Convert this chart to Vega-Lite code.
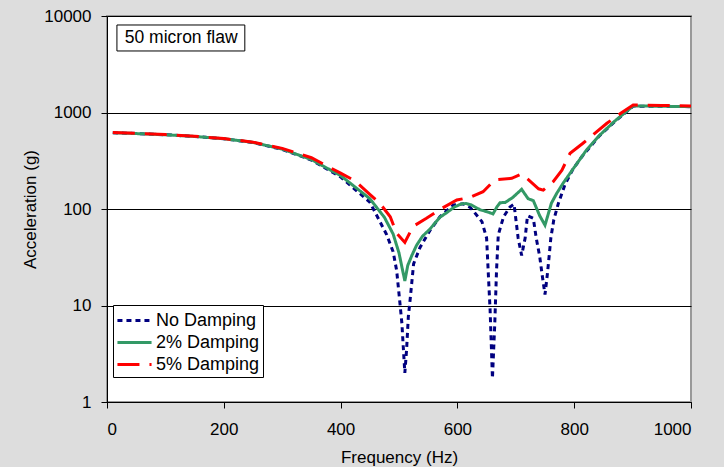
{
  "$schema": "https://vega.github.io/schema/vega-lite/v6.json",
  "width": 584,
  "height": 386,
  "autosize": {"type": "none"},
  "padding": {"left": 107, "top": 16, "right": 33, "bottom": 65},
  "background": "#dddddd",
  "config": {
    "font": "Liberation Sans",
    "view": {"fill": "white", "stroke": "#999999", "strokeWidth": 2},
    "axis": {
      "labelFont": "Liberation Sans", "titleFont": "Liberation Sans",
      "labelFontSize": 17, "titleFontSize": 17, "titleFontWeight": "normal", "labelFontWeight": "normal",
      "labelColor": "black", "titleColor": "black",
      "domainColor": "black", "tickColor": "black", "tickSize": 6,
      "gridColor": "black", "gridOpacity": 1, "gridWidth": 1
    }
  },
  "layer": [
    {
      "data": {"values": [
        {"f": 10, "a": 617, "s": "No Damping"},
        {"f": 50, "a": 605, "s": "No Damping"},
        {"f": 100, "a": 588, "s": "No Damping"},
        {"f": 150, "a": 565, "s": "No Damping"},
        {"f": 200, "a": 535, "s": "No Damping"},
        {"f": 250, "a": 488, "s": "No Damping"},
        {"f": 300, "a": 415, "s": "No Damping"},
        {"f": 350, "a": 322, "s": "No Damping"},
        {"f": 400, "a": 215, "s": "No Damping"},
        {"f": 450, "a": 118, "s": "No Damping"},
        {"f": 479, "a": 54, "s": "No Damping"},
        {"f": 490, "a": 36, "s": "No Damping"},
        {"f": 496, "a": 23, "s": "No Damping"},
        {"f": 502, "a": 10, "s": "No Damping"},
        {"f": 505, "a": 6.5, "s": "No Damping"},
        {"f": 507, "a": 4, "s": "No Damping"},
        {"f": 510, "a": 2, "s": "No Damping"},
        {"f": 513, "a": 3.5, "s": "No Damping"},
        {"f": 516, "a": 7.7, "s": "No Damping"},
        {"f": 519, "a": 11.4, "s": "No Damping"},
        {"f": 525, "a": 27, "s": "No Damping"},
        {"f": 536, "a": 40, "s": "No Damping"},
        {"f": 553, "a": 60, "s": "No Damping"},
        {"f": 570, "a": 83, "s": "No Damping"},
        {"f": 593, "a": 110, "s": "No Damping"},
        {"f": 610, "a": 113, "s": "No Damping"},
        {"f": 622, "a": 104, "s": "No Damping"},
        {"f": 642, "a": 74, "s": "No Damping"},
        {"f": 650, "a": 50, "s": "No Damping"},
        {"f": 653, "a": 21, "s": "No Damping"},
        {"f": 656, "a": 9, "s": "No Damping"},
        {"f": 660, "a": 1.76, "s": "No Damping"},
        {"f": 664, "a": 6.5, "s": "No Damping"},
        {"f": 667, "a": 23, "s": "No Damping"},
        {"f": 670, "a": 54, "s": "No Damping"},
        {"f": 679, "a": 83, "s": "No Damping"},
        {"f": 690, "a": 105, "s": "No Damping"},
        {"f": 697, "a": 112, "s": "No Damping"},
        {"f": 704, "a": 50, "s": "No Damping"},
        {"f": 710, "a": 33, "s": "No Damping"},
        {"f": 716, "a": 50, "s": "No Damping"},
        {"f": 720, "a": 85, "s": "No Damping"},
        {"f": 730, "a": 80, "s": "No Damping"},
        {"f": 735, "a": 50, "s": "No Damping"},
        {"f": 741, "a": 32, "s": "No Damping"},
        {"f": 745, "a": 21, "s": "No Damping"},
        {"f": 750, "a": 13, "s": "No Damping"},
        {"f": 754, "a": 21, "s": "No Damping"},
        {"f": 757, "a": 32, "s": "No Damping"},
        {"f": 760, "a": 50, "s": "No Damping"},
        {"f": 765, "a": 77, "s": "No Damping"},
        {"f": 773, "a": 115, "s": "No Damping"},
        {"f": 784, "a": 178, "s": "No Damping"},
        {"f": 797, "a": 253, "s": "No Damping"},
        {"f": 813, "a": 348, "s": "No Damping"},
        {"f": 844, "a": 580, "s": "No Damping"},
        {"f": 870, "a": 810, "s": "No Damping"},
        {"f": 901, "a": 1165, "s": "No Damping"},
        {"f": 950, "a": 1160, "s": "No Damping"},
        {"f": 1000, "a": 1150, "s": "No Damping"},

        {"f": 10, "a": 617, "s": "2% Damping"},
        {"f": 50, "a": 605, "s": "2% Damping"},
        {"f": 100, "a": 588, "s": "2% Damping"},
        {"f": 150, "a": 565, "s": "2% Damping"},
        {"f": 200, "a": 535, "s": "2% Damping"},
        {"f": 250, "a": 490, "s": "2% Damping"},
        {"f": 300, "a": 418, "s": "2% Damping"},
        {"f": 350, "a": 325, "s": "2% Damping"},
        {"f": 400, "a": 222, "s": "2% Damping"},
        {"f": 450, "a": 128, "s": "2% Damping"},
        {"f": 475, "a": 82, "s": "2% Damping"},
        {"f": 490, "a": 55, "s": "2% Damping"},
        {"f": 500, "a": 35, "s": "2% Damping"},
        {"f": 505, "a": 25, "s": "2% Damping"},
        {"f": 510, "a": 18, "s": "2% Damping"},
        {"f": 515, "a": 26, "s": "2% Damping"},
        {"f": 522, "a": 33, "s": "2% Damping"},
        {"f": 530, "a": 42, "s": "2% Damping"},
        {"f": 540, "a": 52, "s": "2% Damping"},
        {"f": 553, "a": 62, "s": "2% Damping"},
        {"f": 570, "a": 82, "s": "2% Damping"},
        {"f": 582, "a": 92, "s": "2% Damping"},
        {"f": 595, "a": 105, "s": "2% Damping"},
        {"f": 607, "a": 113, "s": "2% Damping"},
        {"f": 615, "a": 114, "s": "2% Damping"},
        {"f": 624, "a": 110, "s": "2% Damping"},
        {"f": 639, "a": 98, "s": "2% Damping"},
        {"f": 650, "a": 94, "s": "2% Damping"},
        {"f": 661, "a": 89, "s": "2% Damping"},
        {"f": 668, "a": 106, "s": "2% Damping"},
        {"f": 673, "a": 116, "s": "2% Damping"},
        {"f": 682, "a": 117, "s": "2% Damping"},
        {"f": 695, "a": 132, "s": "2% Damping"},
        {"f": 710, "a": 160, "s": "2% Damping"},
        {"f": 721, "a": 128, "s": "2% Damping"},
        {"f": 730, "a": 122, "s": "2% Damping"},
        {"f": 741, "a": 85, "s": "2% Damping"},
        {"f": 750, "a": 68, "s": "2% Damping"},
        {"f": 761, "a": 115, "s": "2% Damping"},
        {"f": 770, "a": 145, "s": "2% Damping"},
        {"f": 781, "a": 185, "s": "2% Damping"},
        {"f": 800, "a": 270, "s": "2% Damping"},
        {"f": 821, "a": 408, "s": "2% Damping"},
        {"f": 844, "a": 585, "s": "2% Damping"},
        {"f": 870, "a": 820, "s": "2% Damping"},
        {"f": 901, "a": 1170, "s": "2% Damping"},
        {"f": 950, "a": 1160, "s": "2% Damping"},
        {"f": 1000, "a": 1150, "s": "2% Damping"},

        {"f": 10, "a": 620, "s": "5% Damping"},
        {"f": 50, "a": 607, "s": "5% Damping"},
        {"f": 100, "a": 590, "s": "5% Damping"},
        {"f": 150, "a": 567, "s": "5% Damping"},
        {"f": 200, "a": 537, "s": "5% Damping"},
        {"f": 250, "a": 493, "s": "5% Damping"},
        {"f": 300, "a": 425, "s": "5% Damping"},
        {"f": 350, "a": 340, "s": "5% Damping"},
        {"f": 400, "a": 235, "s": "5% Damping"},
        {"f": 425, "a": 195, "s": "5% Damping"},
        {"f": 450, "a": 142, "s": "5% Damping"},
        {"f": 467, "a": 115, "s": "5% Damping"},
        {"f": 485, "a": 83, "s": "5% Damping"},
        {"f": 496, "a": 56, "s": "5% Damping"},
        {"f": 510, "a": 45, "s": "5% Damping"},
        {"f": 524, "a": 66, "s": "5% Damping"},
        {"f": 547, "a": 80, "s": "5% Damping"},
        {"f": 570, "a": 99, "s": "5% Damping"},
        {"f": 599, "a": 124, "s": "5% Damping"},
        {"f": 622, "a": 132, "s": "5% Damping"},
        {"f": 644, "a": 151, "s": "5% Damping"},
        {"f": 664, "a": 200, "s": "5% Damping"},
        {"f": 693, "a": 208, "s": "5% Damping"},
        {"f": 710, "a": 231, "s": "5% Damping"},
        {"f": 721, "a": 203, "s": "5% Damping"},
        {"f": 739, "a": 162, "s": "5% Damping"},
        {"f": 747, "a": 157, "s": "5% Damping"},
        {"f": 764, "a": 192, "s": "5% Damping"},
        {"f": 779, "a": 253, "s": "5% Damping"},
        {"f": 793, "a": 378, "s": "5% Damping"},
        {"f": 815, "a": 480, "s": "5% Damping"},
        {"f": 856, "a": 773, "s": "5% Damping"},
        {"f": 881, "a": 995, "s": "5% Damping"},
        {"f": 901, "a": 1197, "s": "5% Damping"},
        {"f": 950, "a": 1185, "s": "5% Damping"},
        {"f": 1000, "a": 1165, "s": "5% Damping"}
      ]},
      "mark": {"type": "line", "strokeWidth": 3, "clip": true},
      "encoding": {
        "x": {"field": "f", "type": "quantitative",
          "scale": {"domain": [0, 1000], "nice": false, "zero": false},
          "axis": {"title": "Frequency (Hz)", "values": [0, 200, 400, 600, 800, 1000], "format": "d", "grid": false, "labelPadding": 13, "titlePadding": 12}},
        "y": {"field": "a", "type": "quantitative",
          "scale": {"type": "log", "domain": [1, 10000], "nice": false},
          "axis": {"title": "Acceleration (g)", "values": [1, 10, 100, 1000, 10000], "format": ".0f", "grid": true, "labelPadding": 10, "titlePadding": 4}},
        "color": {"field": "s", "type": "nominal",
          "scale": {"domain": ["No Damping", "2% Damping", "5% Damping"], "range": ["#000080", "#339966", "#ff0000"]},
          "legend": {"title": null, "orient": "none", "legendX": 6, "legendY": 289,
            "strokeColor": "black", "fillColor": "white", "padding": 3,
            "labelFontSize": 18, "labelFont": "Liberation Sans", "labelColor": "black",
            "symbolType": "M-1.55,0H1.55", "symbolSize": 484, "symbolStrokeWidth": 3,
            "symbolOffset": 6, "labelOffset": 9, "rowPadding": 0}},
        "strokeDash": {"field": "s", "type": "nominal",
          "scale": {"domain": ["No Damping", "2% Damping", "5% Damping"], "range": [[5, 4], [1, 0], [22, 10]]},
          "legend": null}
      }
    },
    {
      "data": {"values": [{"label": "50 micron flaw"}]},
      "mark": {"type": "rect", "fill": "white", "stroke": "black", "strokeWidth": 1},
      "encoding": {
        "x": {"datum": 17}, "x2": {"datum": 236},
        "y": {"datum": 8070}, "y2": {"datum": 4340}
      }
    },
    {
      "data": {"values": [{"label": "50 micron flaw"}]},
      "mark": {"type": "text", "fontSize": 17.5, "font": "Liberation Sans", "fill": "black", "align": "center", "baseline": "middle"},
      "encoding": {
        "text": {"field": "label", "type": "nominal"},
        "x": {"datum": 127}, "y": {"datum": 5910}
      }
    }
  ]
}
